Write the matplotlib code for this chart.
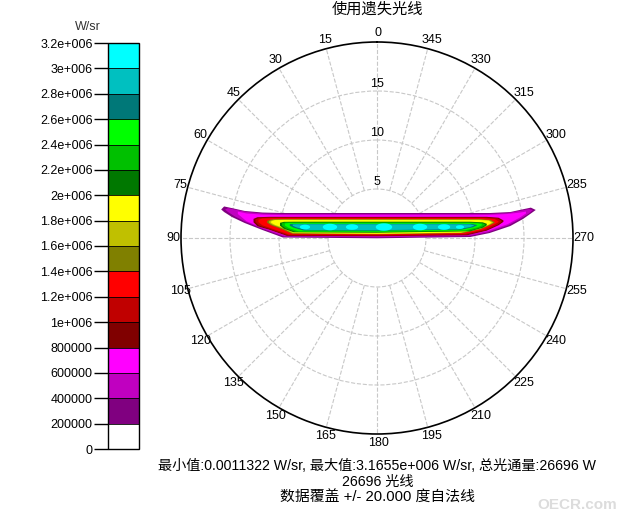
import numpy as np
import matplotlib
matplotlib.use('Agg')
import matplotlib.pyplot as plt
from matplotlib.colors import ListedColormap, BoundaryNorm
from matplotlib.cm import ScalarMappable
from matplotlib.path import Path

plt.rcParams['font.family'] = ['Liberation Sans', 'Noto Sans CJK SC']

# colour scale (W/sr)
levels = [0, 2e5, 4e5, 6e5, 8e5, 1e6, 1.2e6, 1.4e6, 1.6e6, 1.8e6, 2e6,
          2.2e6, 2.4e6, 2.6e6, 2.8e6, 3e6, 3.2e6]
level_labels = ['0', '200000', '400000', '600000', '800000', '1e+006',
                '1.2e+006', '1.4e+006', '1.6e+006', '1.8e+006', '2e+006',
                '2.2e+006', '2.4e+006', '2.6e+006', '2.8e+006', '3e+006',
                '3.2e+006']
level_colors = ['#FFFFFF', '#800080', '#C000C0', '#FF00FF', '#800000',
                '#C00000', '#FF0000', '#808000', '#C0C000', '#FFFF00',
                '#007800', '#00C000', '#00FF00', '#007878', '#00C0C0',
                '#00FFFF']

# contour outlines, x = horizontal offset (deg, + toward 270), top/bottom = vertical offset (deg)
c1_x = [-15.9, -15.6, -14.8, -13.5, -11.7, -9.6, 0, 9.5, 11.5, 13.6, 14.9, 15.7, 16.2]
c1_top = [2.91, 3.22, 3.05, 2.76, 2.60, 2.55, 2.55, 2.55, 2.55, 2.65, 2.93, 3.10, 2.86]
c1_bot = [2.91, 2.65, 2.14, 1.53, 0.82, 0.05, -0.03, 0.10, 0.51, 1.22, 1.94, 2.50, 2.86]

c2_x = [-15.5, -15.2, -14.5, -13.3, -11.6, -9.5, 0, 9.4, 11.4, 13.4, 14.7, 15.5, 15.9]
c2_top = [2.9, 3.05, 2.9, 2.66, 2.5, 2.45, 2.45, 2.45, 2.45, 2.55, 2.8, 2.95, 2.85]
c2_bot = [2.9, 2.65, 2.2, 1.6, 0.9, 0.15, 0.07, 0.2, 0.6, 1.3, 2.0, 2.5, 2.85]

c3_x = [-14.2, -13.3, -11.6, -9.4, 0, 9.3, 11.3, 13.3, 14.6, 15.2]
c3_top = [2.7, 2.5, 2.38, 2.33, 2.33, 2.33, 2.35, 2.45, 2.6, 2.7]
c3_bot = [2.45, 1.7, 1.0, 0.27, 0.17, 0.3, 0.7, 1.4, 2.1, 2.5]

c4_x = [-12.6, -12.2, -11.0, -9.2, 0, 9.2, 11.2, 12.4, 12.9]
c4_top = [1.95, 2.12, 2.16, 2.16, 2.16, 2.16, 2.16, 2.07, 1.8]
c4_bot = [1.6, 1.2, 0.85, 0.22, 0.18, 0.28, 0.75, 1.3, 1.65]

c5_x = [-12.4, -12.0, -10.9, -9.1, 0, 9.1, 11.1, 12.3, 12.7]
c5_top = [1.9, 2.06, 2.09, 2.09, 2.09, 2.09, 2.09, 2.0, 1.75]
c5_bot = [1.62, 1.25, 0.9, 0.28, 0.24, 0.34, 0.8, 1.35, 1.65]

c6_x = [-12.1, -11.7, -10.7, -9.0, 0, 9.0, 10.9, 12.0, 12.4]
c6_top = [1.85, 1.99, 2.02, 2.02, 2.02, 2.02, 2.02, 1.93, 1.7]
c6_bot = [1.62, 1.3, 0.95, 0.36, 0.31, 0.42, 0.85, 1.38, 1.63]

c7_x = [-11.2, -10.8, -9.7, -8.7, 0, 8.7, 10.6, 11.6, 12.0]
c7_top = [1.75, 1.9, 1.92, 1.92, 1.92, 1.92, 1.92, 1.85, 1.62]
c7_bot = [1.55, 1.3, 0.9, 0.45, 0.38, 0.5, 0.9, 1.35, 1.55]

c8_x = [-11.0, -10.6, -9.5, -8.6, 0, 8.6, 10.5, 11.5, 11.85]
c8_top = [1.72, 1.86, 1.88, 1.88, 1.88, 1.88, 1.88, 1.8, 1.6]
c8_bot = [1.55, 1.32, 0.93, 0.48, 0.41, 0.53, 0.92, 1.36, 1.55]

c9_x = [-10.8, -10.4, -9.3, -8.5, 0, 8.5, 10.4, 11.4, 11.7]
c9_top = [1.7, 1.83, 1.84, 1.84, 1.84, 1.84, 1.84, 1.77, 1.58]
c9_bot = [1.55, 1.33, 0.96, 0.52, 0.43, 0.56, 0.94, 1.37, 1.55]

c10_x = [-9.9, -9.5, -8.5, 0, 9.5, 10.8, 11.2]
c10_top = [1.55, 1.65, 1.66, 1.66, 1.66, 1.6, 1.45]
c10_bot = [1.25, 0.95, 0.58, 0.54, 0.68, 1.05, 1.3]

c11_x = [-9.7, -9.3, -8.3, 0, 9.3, 10.6, 11.0]
c11_top = [1.52, 1.6, 1.6, 1.6, 1.6, 1.55, 1.42]
c11_bot = [1.26, 0.98, 0.62, 0.6, 0.72, 1.07, 1.3]

c12_x = [-9.4, -9.0, -8.0, 0, 9.0, 10.3, 10.7]
c12_top = [1.48, 1.53, 1.53, 1.53, 1.53, 1.5, 1.4]
c12_bot = [1.27, 1.02, 0.68, 0.66, 0.78, 1.1, 1.3]

c13_x = [-8.9, -8.5, -7.5, 0, 8.6, 9.8, 10.2]
c13_top = [1.42, 1.45, 1.45, 1.45, 1.45, 1.42, 1.33]
c13_bot = [1.25, 1.05, 0.76, 0.74, 0.85, 1.1, 1.28]

c14_x = [-8.6, -8.2, -7.2, 0, 8.3, 9.5, 9.9]
c14_top = [1.38, 1.4, 1.4, 1.4, 1.4, 1.38, 1.3]
c14_bot = [1.25, 1.08, 0.82, 0.8, 0.9, 1.12, 1.27]

contours = [(c1_x, c1_top, c1_bot), (c2_x, c2_top, c2_bot), (c3_x, c3_top, c3_bot),
            (c4_x, c4_top, c4_bot), (c5_x, c5_top, c5_bot), (c6_x, c6_top, c6_bot),
            (c7_x, c7_top, c7_bot), (c8_x, c8_top, c8_bot), (c9_x, c9_top, c9_bot),
            (c10_x, c10_top, c10_bot), (c11_x, c11_top, c11_bot), (c12_x, c12_top, c12_bot),
            (c13_x, c13_top, c13_bot), (c14_x, c14_top, c14_bot)]

# peak spots (> 3e6 W/sr)
peak_x = [-7.35, -4.8, -2.55, 0.71, 4.39, 6.84, 8.47]
peak_y = [1.12, 1.12, 1.12, 1.12, 1.12, 1.12, 1.12]
peak_w = [10, 14, 12, 16, 14, 12, 8]

angles = list(range(0, 360, 15))
rings = [5, 10, 15]

title = '使用遗失光线'
info1 = '最小值:0.0011322 W/sr, 最大值:3.1655e+006 W/sr, 总光通量:26696 W'
info2 = '26696 光线'
info3 = '数据覆盖 +/- 20.000 度自法线'

W, H = 629, 519
fig = plt.figure(figsize=(W / 100, H / 100), dpi=100)

# polar plot
cx, cy, R = 377, 238, 196
ax = fig.add_axes([(cx - R) / W, (H - cy - R) / H, 2 * R / W, 2 * R / H],
                  projection='polar')
ax.set_theta_zero_location('N')
ax.set_theta_direction(1)
ax.set_ylim(0, 20)
ax.set_thetagrids(angles, [''] * len(angles))
ax.set_rgrids(rings, labels=[])
ax.grid(False, axis='x')
ax.grid(True, axis='y', color='#c8c8c8', linestyle='--', linewidth=0.8)
ax.vlines(np.deg2rad(angles), 5, 20, colors='#c8c8c8', linestyles='--', linewidth=0.8, zorder=1)
ax.tick_params(axis='x', length=0)
ax.spines['polar'].set_linewidth(1.2)
for a in angles:
    th = np.deg2rad(a)
    ax.annotate(str(a), (th, 20), xytext=(-6.6 * np.sin(th) + 1.0, 6.6 * np.cos(th)),
                textcoords='offset points', ha='center', va='center', fontsize=9)
for r in rings:
    ax.annotate(str(r), (0, r), xytext=(0, 1), textcoords='offset points',
                ha='center', va='bottom', fontsize=9, zorder=4)

for (xs, top, bot), col in zip(contours, level_colors[1:]):
    u = np.concatenate([xs, xs[::-1]])
    v = np.concatenate([top, bot[::-1]])
    ax.fill(np.arctan2(-u, v), np.hypot(u, v), color=col, lw=0, zorder=3)

t = np.linspace(0, 2 * np.pi, 40)
blob = Path(np.column_stack([np.cos(t), 0.45 * np.sin(t)]))
px = np.array(peak_x)
py = np.array(peak_y)
ax.scatter(np.arctan2(-px, py), np.hypot(px, py), s=np.array(peak_w) ** 2 * 0.55,
           marker=blob, color='#00FFFF', lw=0, zorder=4)

# colour bar
cax = fig.add_axes([108 / W, (H - 449) / H, 31 / W, 406 / H])
sm = ScalarMappable(norm=BoundaryNorm(levels, len(level_colors)), cmap=ListedColormap(level_colors))
cb = fig.colorbar(sm, cax=cax, ticks=levels, drawedges=True)
cb.outline.set_linewidth(1)
cb.dividers.set_linewidth(0.6)
cax.yaxis.set_ticks_position('left')
cax.set_yticklabels(level_labels)
cax.tick_params(length=10, width=1, labelsize=9, pad=1)
fig.text(88 / W, 1 - 27 / H, 'W/sr', ha='center', va='center', fontsize=9, color='#333333')

fig.text(377 / W, 1 - 10 / H, title, ha='center', va='center', fontsize=11)
fig.text(377 / W, 1 - 466 / H, info1, ha='center', va='center', fontsize=10.2)
fig.text(378 / W, 1 - 482 / H, info2, ha='center', va='center', fontsize=10.2)
fig.text(377 / W, 1 - 498 / H, info3, ha='center', va='center', fontsize=10.7)
fig.text(577 / W, 1 - 505 / H, 'OECR.com', ha='center', va='center', fontsize=11,
         fontweight='bold', color='#dcdcdc')

fig.savefig('out.png', dpi=100)
